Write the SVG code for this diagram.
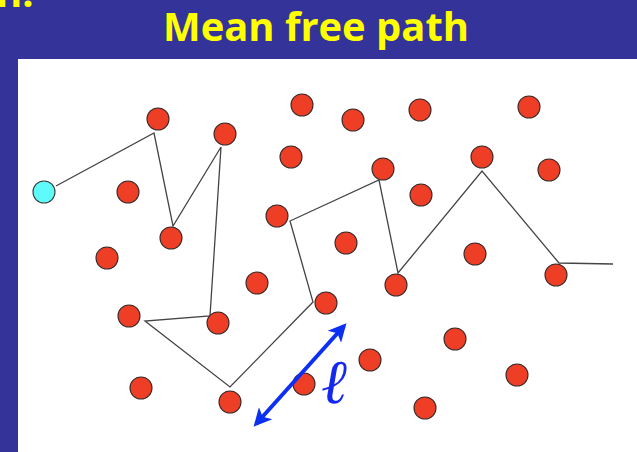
<svg xmlns="http://www.w3.org/2000/svg" width="637" height="452" viewBox="0 0 637 452">
  <style>
    .title { font-family: "Open Sans", "Liberation Sans", sans-serif; font-weight: bold; fill: #ffff00; }
    .p { fill: #ee3f26; stroke: #3a2a2a; stroke-width: 1.1; }
    .c { fill: #5ffbfb; stroke: #3a3a3a; stroke-width: 1.1; }
    .path { fill: none; stroke: #444; stroke-width: 1.3; stroke-linejoin: miter; }
    .blue { stroke: #0c2ff2; stroke-width: 4; fill: none; }
    .ell { font-family: "DejaVu Serif", "Liberation Serif", serif; font-style: italic; fill: #1428f0; }
  </style>
  <defs>
    <marker id="ah" viewBox="0 0 10 10" refX="8" refY="5" markerWidth="5" markerHeight="4.5" orient="auto-start-reverse" markerUnits="strokeWidth">
      <path d="M0,0 L10,5 L0,10 L2.5,5 z" fill="#0c2ff2"/>
    </marker>
  </defs>
  <rect x="0" y="0" width="637" height="452" fill="#333399"/>
  <rect x="18" y="59" width="619" height="393" fill="#ffffff"/>
  <text class="title" x="-4" y="7" font-size="40">n:</text>
  <text class="title" x="316" y="41" font-size="39" text-anchor="middle" textLength="306" lengthAdjust="spacingAndGlyphs">Mean free path</text>

  <g id="connectors">
    <polyline class="path" points="56,186 154,133 173,226 221,147 210,316 145,321 230,387 313,302 290,221 379,180 398,273 482,171 559,263 613,264"/>
  </g>

  <g id="particles">
    <circle id="start" class="c" cx="44" cy="192" r="11"/>
    <circle class="p" cx="158" cy="119" r="11"/>
    <circle class="p" cx="225" cy="134" r="11"/>
    <circle class="p" cx="302" cy="105" r="11"/>
    <circle class="p" cx="353" cy="120" r="11"/>
    <circle class="p" cx="420" cy="110" r="11"/>
    <circle class="p" cx="529" cy="107" r="11"/>
    <circle class="p" cx="128" cy="192" r="11"/>
    <circle class="p" cx="291" cy="157" r="11"/>
    <circle class="p" cx="383" cy="169" r="11"/>
    <circle class="p" cx="482" cy="157" r="11"/>
    <circle class="p" cx="549" cy="170" r="11"/>
    <circle class="p" cx="171" cy="238" r="11"/>
    <circle class="p" cx="277" cy="216" r="11"/>
    <circle class="p" cx="421" cy="195" r="11"/>
    <circle class="p" cx="107" cy="258" r="11"/>
    <circle class="p" cx="346" cy="243" r="11"/>
    <circle class="p" cx="475" cy="254" r="11"/>
    <circle class="p" cx="257" cy="283" r="11"/>
    <circle class="p" cx="396" cy="285" r="11"/>
    <circle class="p" cx="556" cy="275" r="11"/>
    <circle class="p" cx="326" cy="303" r="11"/>
    <circle class="p" cx="129" cy="316" r="11"/>
    <circle class="p" cx="218" cy="323" r="11"/>
    <circle class="p" cx="455" cy="339" r="11"/>
    <circle class="p" cx="370" cy="360" r="11"/>
    <circle class="p" cx="517" cy="375" r="11"/>
    <circle class="p" cx="141" cy="388" r="11"/>
    <circle class="p" cx="304" cy="384" r="11"/>
    <circle class="p" cx="230" cy="402" r="11"/>
    <circle class="p" cx="425" cy="408" r="11"/>
  </g>

  <g id="length">
    <line class="blue" x1="256" y1="424" x2="344" y2="326" marker-start="url(#ah)" marker-end="url(#ah)"/>
    <text class="ell" x="321" y="403" font-size="62">ℓ</text>
  </g>
</svg>
